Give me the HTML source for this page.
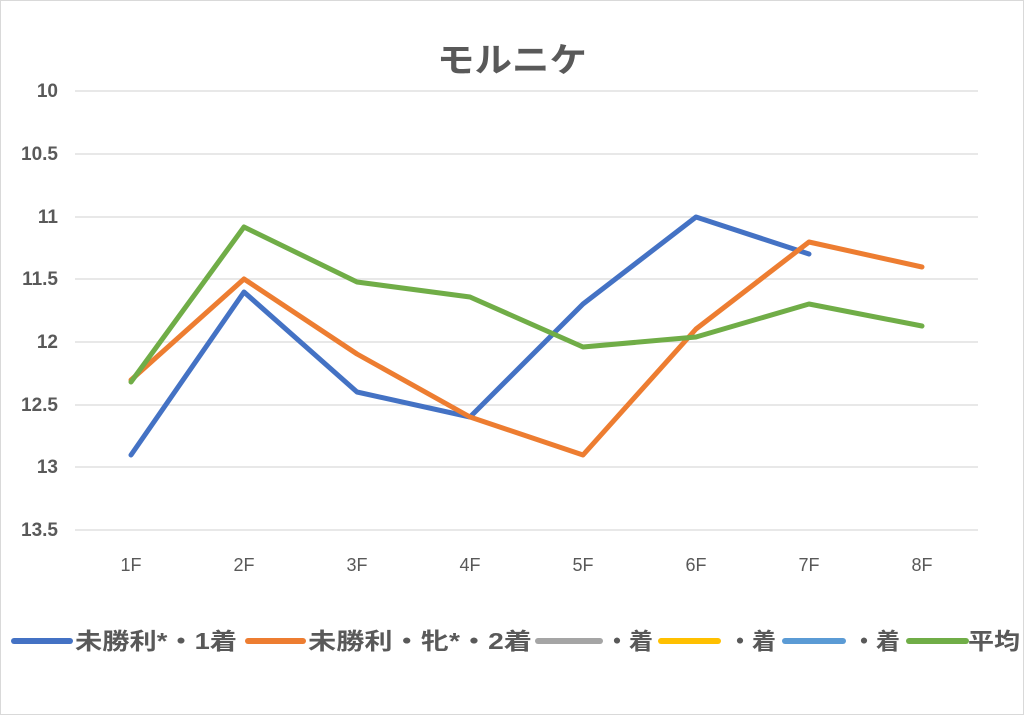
<!DOCTYPE html>
<html><head><meta charset="utf-8"><style>body{margin:0;background:#fff}</style></head><body>
<svg width="1024" height="715" xmlns="http://www.w3.org/2000/svg" font-family="Liberation Sans, Noto Sans CJK JP, sans-serif">
<rect x="0.5" y="0.5" width="1023" height="714" fill="#fff" stroke="#d9d9d9"/>
<text x="512" y="72" text-anchor="middle" font-size="34" font-weight="bold" fill="#595959" textLength="150" lengthAdjust="spacingAndGlyphs">モルニケ</text>
<g stroke="#d9d9d9" stroke-width="1.3">
<line x1="75" x2="978" y1="91" y2="91"/><line x1="75" x2="978" y1="154" y2="154"/><line x1="75" x2="978" y1="217" y2="217"/><line x1="75" x2="978" y1="279" y2="279"/><line x1="75" x2="978" y1="342" y2="342"/><line x1="75" x2="978" y1="405" y2="405"/><line x1="75" x2="978" y1="467" y2="467"/><line x1="75" x2="978" y1="530" y2="530"/>
</g>
<g font-size="19" font-weight="bold" fill="#595959" text-anchor="end">
<text x="58" y="97">10</text><text x="58" y="160">10.5</text><text x="58" y="223">11</text><text x="58" y="285">11.5</text><text x="58" y="348">12</text><text x="58" y="411">12.5</text><text x="58" y="473">13</text><text x="58" y="536">13.5</text>
</g>
<g font-size="18" fill="#595959" text-anchor="middle">
<text x="131" y="571">1F</text><text x="244" y="571">2F</text><text x="357" y="571">3F</text><text x="470" y="571">4F</text><text x="583" y="571">5F</text><text x="696" y="571">6F</text><text x="809" y="571">7F</text><text x="922" y="571">8F</text>
</g>
<g fill="none" stroke-width="5" stroke-linejoin="round" stroke-linecap="round">
<polyline stroke="#4472c4" points="131,455 244,292 357,392 470,417 583,304 696,217 809,254"/>
<polyline stroke="#ed7d31" points="131,380 244,279 357,354 470,417 583,455 696,329 809,242 922,267"/>
<polyline stroke="#70ad47" points="131,382 244,227 357,282 470,297 583,347 696,337 809,304 922,326"/>
</g>
<g stroke-width="6" stroke-linecap="round">
<line x1="14" x2="70" y1="641" y2="641" stroke="#4472c4"/>
<line x1="248" x2="303" y1="641" y2="641" stroke="#ed7d31"/>
<line x1="538" x2="600" y1="641" y2="641" stroke="#a5a5a5"/>
<line x1="661" x2="718" y1="641" y2="641" stroke="#ffc000"/>
<line x1="785" x2="843" y1="641" y2="641" stroke="#5b9bd5"/>
<line x1="909" x2="966" y1="641" y2="641" stroke="#70ad47"/>
</g>
<g font-size="23" fill="#595959" font-weight="bold">
<text x="75" y="649" textLength="162" lengthAdjust="spacingAndGlyphs">未勝利*・1着</text>
<text x="308" y="649" textLength="224" lengthAdjust="spacingAndGlyphs">未勝利・牝*・2着</text>
<text x="605" y="649" textLength="48" lengthAdjust="spacingAndGlyphs">・着</text>
<text x="728" y="649" textLength="48" lengthAdjust="spacingAndGlyphs">・着</text>
<text x="852" y="649" textLength="48" lengthAdjust="spacingAndGlyphs">・着</text>
<text x="968" y="649" textLength="52" lengthAdjust="spacingAndGlyphs">平均</text>
</g>
</svg>
</body></html>
